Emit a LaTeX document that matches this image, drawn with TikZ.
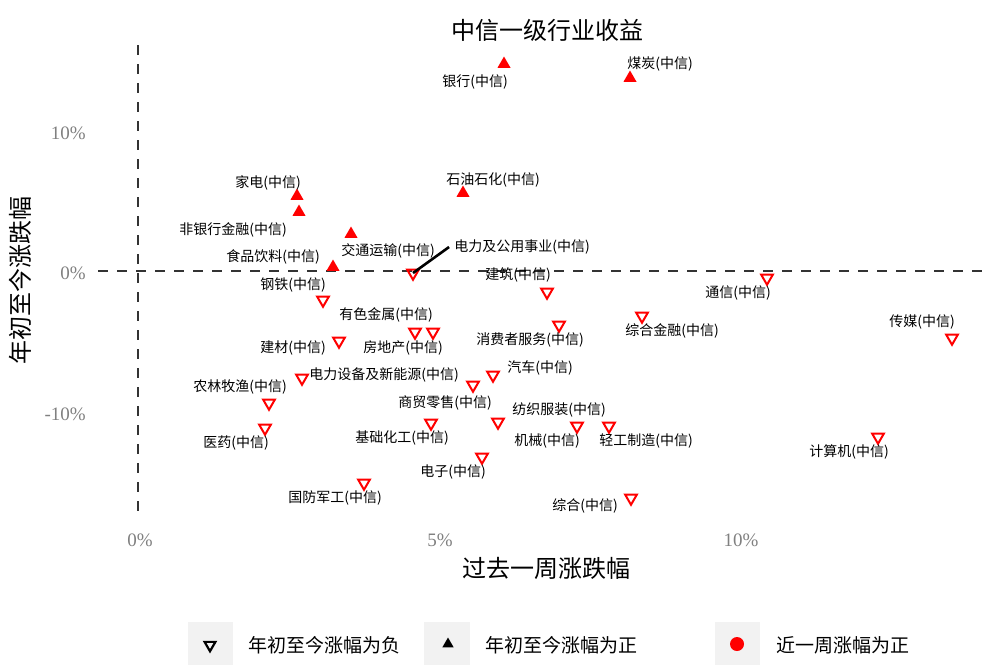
\documentclass[tikz,border=0pt]{standalone}
\usepackage{fontspec}
\usepackage{xcolor}
\usepackage{tikz}
\usetikzlibrary{shapes.geometric}
\setmainfont{Liberation Serif}
\newfontfamily\cjk{Noto Sans CJK SC}
\definecolor{axisgray}{HTML}{808080}
\definecolor{zerogray}{HTML}{333333}
\definecolor{legendbg}{HTML}{F2F2F2}

\begin{document}
\begin{tikzpicture}[x=1pt,y=-1pt,
    up node/.style={regular polygon,regular polygon sides=3,fill=red,inner sep=0pt,minimum size=15pt},
    down node/.style={regular polygon,regular polygon sides=3,shape border rotate=180,draw=red,line width=2pt,inner sep=0pt,minimum size=13.5pt},
    name node/.style={font=\cjk\fontsize{14}{15}\selectfont,inner sep=0pt},
    tick node/.style={font=\fontsize{19}{20}\selectfont,text=axisgray,inner sep=0pt},
    big node/.style={font=\cjk\fontsize{24}{26}\selectfont,inner sep=0pt},
    zero line/.style={draw=zerogray,line width=1.5pt,dash pattern=on 10pt off 9pt}]
  \useasboundingbox (0,0) rectangle (1000,665);
  % zero lines
  \draw[zero line] (138,45) -- (138,520);
  \draw[zero line] (98,271) -- (990,271);
  % axes text
  \node[big node] (title) at (547,30) {中信一级行业收益};
  \node[big node] (xtitle) at (546,568) {过去一周涨跌幅};
  \node[big node,rotate=90] (ytitle) at (20,280) {年初至今涨跌幅};
  \node[tick node,anchor=east] (y1) at (86,133) {10\%};
  \node[tick node,anchor=east] (y2) at (86,273) {0\%};
  \node[tick node,anchor=east] (y3) at (86,414) {-10\%};
  \node[tick node] (x1) at (140,540) {0\%};
  \node[tick node] (x2) at (440,540) {5\%};
  \node[tick node] (x3) at (741,540) {10\%};
  % industries
  \node[up node] (m1) at (504,64) {};
  \node[up node] (m2) at (630,78) {};
  \node[up node] (m3) at (297,196) {};
  \node[up node] (m4) at (299,212) {};
  \node[up node] (m5) at (463,193) {};
  \node[up node] (m6) at (351,234) {};
  \node[up node] (m7) at (333,267) {};
  \node[down node] (m8) at (413,273) {};
  \node[down node] (m9) at (547,292) {};
  \node[down node] (m10) at (323,300) {};
  \node[down node] (m11) at (767,278) {};
  \node[down node] (m12) at (415,332) {};
  \node[down node] (m13) at (433,332) {};
  \node[down node] (m14) at (559,325) {};
  \node[down node] (m15) at (642,316) {};
  \node[down node] (m16) at (952,338) {};
  \node[down node] (m17) at (339,341) {};
  \node[down node] (m18) at (302,378) {};
  \node[down node] (m19) at (493,375) {};
  \node[down node] (m20) at (473,385) {};
  \node[down node] (m21) at (269,403) {};
  \node[down node] (m22) at (498,422) {};
  \node[down node] (m23) at (577,426) {};
  \node[down node] (m24) at (609,426) {};
  \node[down node] (m25) at (431,423) {};
  \node[down node] (m26) at (265,428) {};
  \node[down node] (m27) at (482,457) {};
  \node[down node] (m28) at (364,483) {};
  \node[down node] (m29) at (631,498) {};
  \node[down node] (m30) at (878,437) {};
  \node[name node] (l1) at (475,82) {银行(中信)};
  \node[name node] (l2) at (660,64) {煤炭(中信)};
  \node[name node] (l3) at (268,183) {家电(中信)};
  \node[name node] (l4) at (233,230) {非银行金融(中信)};
  \node[name node] (l5) at (493,180) {石油石化(中信)};
  \node[name node] (l6) at (388,251) {交通运输(中信)};
  \node[name node] (l7) at (273,257) {食品饮料(中信)};
  \node[name node] (l8) at (522,247) {电力及公用事业(中信)};
  \node[name node] (l9) at (518,275) {建筑(中信)};
  \node[name node] (l10) at (293,285) {钢铁(中信)};
  \node[name node] (l11) at (738,293) {通信(中信)};
  \node[name node] (l12) at (386,315) {有色金属(中信)};
  \node[name node] (l13) at (403,348) {房地产(中信)};
  \node[name node] (l14) at (530,340) {消费者服务(中信)};
  \node[name node] (l15) at (672,331) {综合金融(中信)};
  \node[name node] (l16) at (922,322) {传媒(中信)};
  \node[name node] (l17) at (293,348) {建材(中信)};
  \node[name node] (l18) at (384,375) {电力设备及新能源(中信)};
  \node[name node] (l19) at (540,368) {汽车(中信)};
  \node[name node] (l20) at (445,403) {商贸零售(中信)};
  \node[name node] (l21) at (240,387) {农林牧渔(中信)};
  \node[name node] (l22) at (559,410) {纺织服装(中信)};
  \node[name node] (l23) at (547,441) {机械(中信)};
  \node[name node] (l24) at (646,441) {轻工制造(中信)};
  \node[name node] (l25) at (402,438) {基础化工(中信)};
  \node[name node] (l26) at (236,443) {医药(中信)};
  \node[name node] (l27) at (453,472) {电子(中信)};
  \node[name node] (l28) at (335,498) {国防军工(中信)};
  \node[name node] (l29) at (585,506) {综合(中信)};
  \node[name node] (l30) at (849,452) {计算机(中信)};
  \draw[line width=2.6pt] (m8.center) -- ([xshift=-5pt]l8.west);
  % legend
  \fill[legendbg] (188,622) rectangle (233,665);
  \fill[legendbg] (424,622) rectangle (470,665);
  \fill[legendbg] (715,622) rectangle (760,665);
  \node[down node,draw=black,line width=2.2pt,minimum size=12.5pt] (k1) at (210,645) {};
  \node[up node,fill=black,minimum size=13pt] (k2) at (448,644) {};
  \node[circle,fill=red,inner sep=0pt,minimum size=14pt] (k3) at (737,644) {};
  \node[name node,font=\cjk\fontsize{19}{20}\selectfont,anchor=west] (t1) at (248,645) {年初至今涨幅为负};
  \node[name node,font=\cjk\fontsize{19}{20}\selectfont,anchor=west] (t2) at (485,645) {年初至今涨幅为正};
  \node[name node,font=\cjk\fontsize{19}{20}\selectfont,anchor=west] (t3) at (776,645) {近一周涨幅为正};
\end{tikzpicture}
\end{document}
